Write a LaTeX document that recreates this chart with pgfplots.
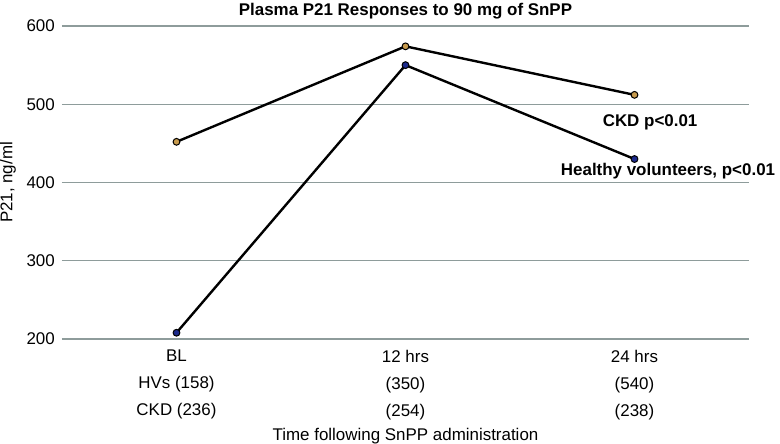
\documentclass[border=0pt]{standalone}
\usepackage{pgfplots}
\pgfplotsset{compat=1.18}
\usepackage{fontspec}
\setmainfont{Liberation Sans}
\definecolor{gridc}{HTML}{8E9C9B}
\definecolor{ckdc}{HTML}{C89B4E}
\definecolor{hvc}{HTML}{1C2A8C}
\begin{document}
\fontsize{17}{27}\selectfont
\begin{tikzpicture}
\begin{axis}[
  name=ax,
  scale only axis,
  width=687bp, height=313bp,
  xmin=-0.5, xmax=2.5,
  ymin=200, ymax=600,
  ytick={200,300,400,500,600},
  xtick={0,1,2},
  xticklabels={{BL\\HVs (158)\\CKD (236)},{12 hrs\\(350)\\(254)},{24 hrs\\(540)\\(238)}},
  xticklabel style={align=center, font=\fontsize{17}{27}\selectfont, inner sep=0pt, anchor=north, yshift=-11bp},
  yticklabel style={font=\fontsize{17}{20}\selectfont, inner sep=0pt, anchor=east, xshift=-7bp},
  /pgf/number format/assume math mode=true,
  ymajorgrids,
  major grid style={draw=gridc, line width=1.2bp},
  axis line style={draw=none},
  major tick length=0pt,
  clip=false,
  title={Plasma P21 Responses to 90 mg of SnPP},
  every axis title/.style={at={(axis description cs:0.5,1)}, anchor=base, yshift=10bp, inner sep=0pt, font=\fontsize{17}{20}\selectfont\bfseries},
  xlabel={Time following SnPP administration},
  every axis x label/.style={at={(axis description cs:0.5,0)}, anchor=base, yshift=-101bp, inner sep=0pt, font=\fontsize{17}{20}\selectfont},
  ylabel={P21, ng/ml},
  every axis y label/.style={at={(axis description cs:0,0.5)}, xshift=-54bp, rotate=90, anchor=center, inner sep=0pt, font=\fontsize{17}{20}\selectfont},
]
\addplot[black, line width=2.4bp, mark=*, mark size=3.4bp, mark options={fill=ckdc, draw=black, line width=1bp}]
  coordinates {(0,452) (1,574) (2,512)};
\addplot[black, line width=2.4bp, mark=*, mark size=3.4bp, mark options={fill=hvc, draw=black, line width=1bp}]
  coordinates {(0,208) (1,550) (2,430)};
\node[font=\fontsize{17}{20}\selectfont\bfseries, anchor=center, inner sep=0pt] at (axis cs:2.068,477) {CKD p<0.01};
\node[font=\fontsize{17}{20}\selectfont\bfseries, anchor=west, inner sep=0pt] at (axis cs:1.678,415) {Healthy volunteers, p<0.01};
\end{axis}
\pgfresetboundingbox
\path ([xshift=-62bp,yshift=-105bp]ax.south west) rectangle ([xshift=31bp,yshift=26bp]ax.north east);
\end{tikzpicture}
\end{document}
